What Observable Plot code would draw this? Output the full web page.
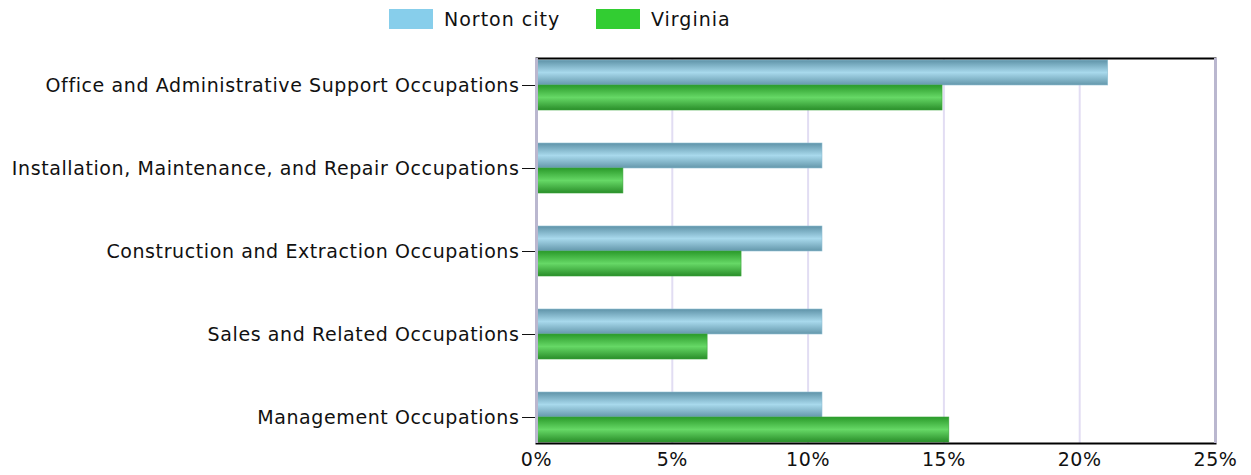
<!DOCTYPE html>
<html>
<head>
<meta charset="utf-8">
<script src="https://cdn.jsdelivr.net/npm/d3@7"></script>
<script src="https://cdn.jsdelivr.net/npm/@observablehq/plot@0.6"></script>
<style>
  body { margin: 0; background: #fff; font-family: "DejaVu Sans", Verdana, sans-serif; }
  #legend { height: 40px; position: relative; font-size: 19px; letter-spacing: 1px; color: #111; }
  .item { position: absolute; top: 8px; display: flex; align-items: center; }
  .sw { width: 44px; height: 20px; margin-right: 11px; }
</style>
</head>
<body>
<div id="legend">
  <div class="item" style="left:389px"><div class="sw" style="background:#87ceeb"></div><span>Norton city</span></div>
  <div class="item" style="left:596px"><div class="sw" style="background:#32cd32"></div><span>Virginia</span></div>
</div>
<div id="chart"></div>
<script>
const categories = [
  "Office and Administrative Support Occupations",
  "Installation, Maintenance, and Repair Occupations",
  "Construction and Extraction Occupations",
  "Sales and Related Occupations",
  "Management Occupations"
];
const nortonValues = [21.05, 10.53, 10.53, 10.53, 10.53];
const virginiaValues = [14.95, 3.2, 7.55, 6.3, 15.2];
const xTicks = [0, 5, 10, 15, 20, 25];

const norton = categories.map((c, i) => ({category: c, value: nortonValues[i]}));
const virginia = categories.map((c, i) => ({category: c, value: virginiaValues[i]}));

const svg = Plot.plot({
  width: 1251,
  height: 435,
  marginLeft: 536,
  marginRight: 36,
  marginTop: 18,
  marginBottom: 32,
  style: {fontSize: "19px", fontFamily: "DejaVu Sans, Verdana, sans-serif", letterSpacing: "0.6px", color: "#111", background: "#fff"},
  x: {domain: [0, 25], ticks: xTicks, tickFormat: d => d + "%", tickSize: 0, tickPadding: 9, label: null},
  y: {domain: categories, paddingInner: 0.4, paddingOuter: 0, tickSize: 14, tickPadding: 3, label: null},
  marks: [
    Plot.ruleX(xTicks.slice(1, -1), {stroke: "#e2ddf3", strokeWidth: 2}),
    Plot.barX(norton, {y: "category", x: "value", insetBottom: 25, fill: "url(#gNorton)", stroke: "#8fbfd2", strokeWidth: 0.6}),
    Plot.barX(virginia, {y: "category", x: "value", insetTop: 25, fill: "url(#gVirginia)", stroke: "#3aa53a", strokeWidth: 0.6}),
    Plot.frame({stroke: "#000", strokeWidth: 2}),
    Plot.ruleX([0, 25], {stroke: "#bab7cf", strokeWidth: 3})
  ]
});

const ns = "http://www.w3.org/2000/svg";
const defs = document.createElementNS(ns, "defs");
function grad(id, stops) {
  const g = document.createElementNS(ns, "linearGradient");
  g.setAttribute("id", id);
  g.setAttribute("x1", "0"); g.setAttribute("y1", "0");
  g.setAttribute("x2", "0"); g.setAttribute("y2", "1");
  for (const [o, c] of stops) {
    const s = document.createElementNS(ns, "stop");
    s.setAttribute("offset", o);
    s.setAttribute("stop-color", c);
    g.appendChild(s);
  }
  defs.appendChild(g);
}
grad("gNorton", [[0, "#5f93a8"], [0.5, "#a8d9ec"], [1, "#6497ab"]]);
grad("gVirginia", [[0, "#2a9a2a"], [0.5, "#66d866"], [1, "#2a8e2a"]]);
svg.insertBefore(defs, svg.firstChild);
document.getElementById("chart").appendChild(svg);
</script>
</body>
</html>
